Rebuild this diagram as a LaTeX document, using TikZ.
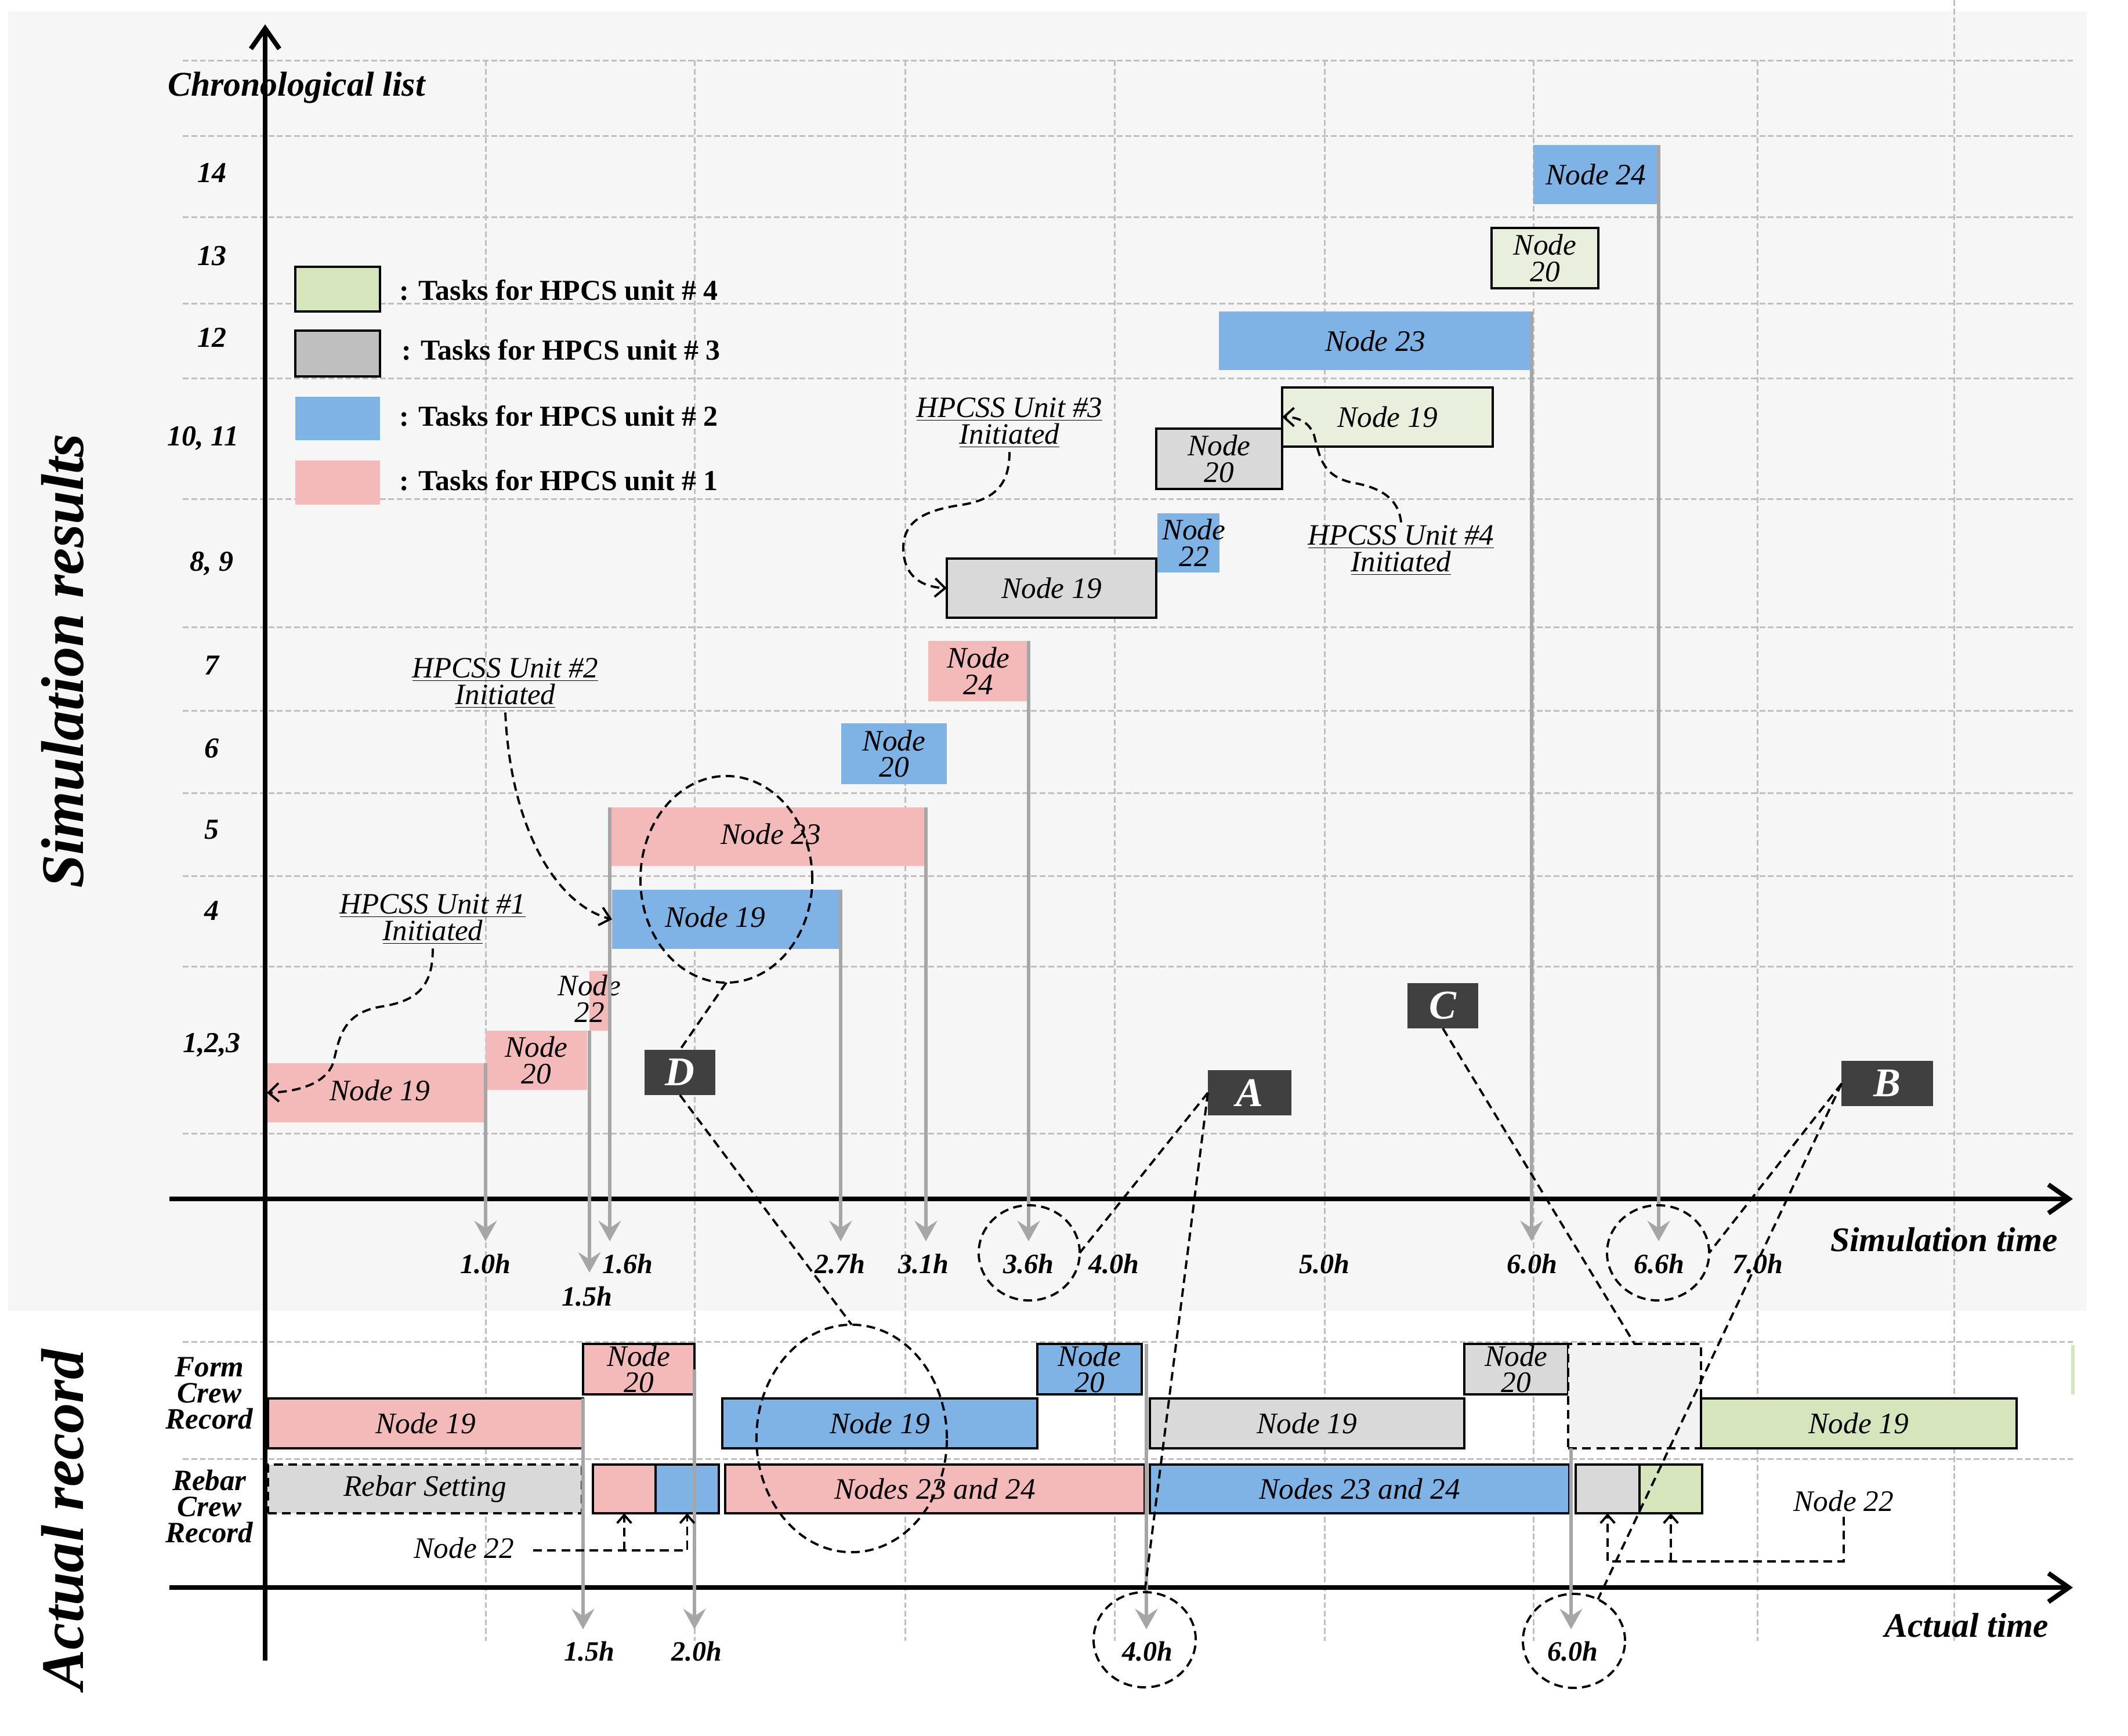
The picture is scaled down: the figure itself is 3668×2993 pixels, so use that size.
\documentclass[tikz,border=0pt]{standalone}
\usepackage{fontspec}
\setmainfont{Liberation Serif}
\usetikzlibrary{arrows.meta,shapes.geometric}
\definecolor{pinkc}{RGB}{244,185,185}
\definecolor{bluec}{RGB}{127,179,229}
\definecolor{grayc}{RGB}{217,217,217}
\definecolor{graylg}{RGB}{191,191,191}
\definecolor{greenl}{RGB}{233,239,221}
\definecolor{greenc}{RGB}{213,230,189}
\definecolor{bgc}{RGB}{246,246,246}
\definecolor{gridc}{RGB}{191,191,191}
\definecolor{dropc}{RGB}{166,166,166}
\definecolor{lblc}{RGB}{64,64,64}
\definecolor{dboxc}{RGB}{242,242,242}
\newcommand\tbox[7]{%
 \node[tb,#2,minimum width={(#5-#3)*0.01cm},minimum height={(#6-#4)*0.01cm}] (#1) at ({(#3+#5)/2},{(#4+#6)/2}) {};
 \node[nf,align=center,inner sep=0pt] (#1-t) at (#1.center) {#7};}
\newcommand\tboxt[9]{%
 \node[tb,#2,minimum width={(#5-#3)*0.01cm},minimum height={(#6-#4)*0.01cm}] (#1) at ({(#3+#5)/2},{(#4+#6)/2}) {};
 \node[nf,align=center,inner sep=0pt] (#1-t) at (#7,#8) {#9};}
\newcommand\ebox[6]{%
 \node[tb,#2,minimum width={(#5-#3)*0.01cm},minimum height={(#6-#4)*0.01cm}] (#1) at ({(#3+#5)/2},{(#4+#6)/2}) {};}
\begin{document}
\begin{tikzpicture}[x=0.01cm,y=-0.01cm,
 nf/.style={font=\fontsize{14.6}{13}\selectfont\itshape},
 tb/.style={inner sep=0pt,outer sep=0pt},
 bd/.style={draw=black,line width=1.2pt},
 gridl/.style={draw=gridc,line width=0.85pt,dash pattern=on 2.8pt off 1.4pt},
 axisl/.style={draw=black,line width=2.3pt},
 axtip/.style={-{Straight Barb[length=10pt,width=14pt]}},
 drop/.style={draw=dropc,line width=1.8pt,-{Stealth[length=10pt,width=11pt,inset=3.5pt]}},
 dsh/.style={draw=black,line width=1.1pt,dash pattern=on 4.3pt off 2.6pt},
 vtip/.style={-{Straight Barb[length=5pt,width=9pt]}},
 stip/.style={-{Straight Barb[length=4pt,width=7pt]}},
 lbl/.style={fill=lblc,text=white,inner sep=0pt,outer sep=0pt,font=\fontsize{20}{20}\selectfont\bfseries\itshape},
 tick/.style={inner sep=0pt,font=\fontsize{13.7}{14}\selectfont\bfseries\itshape},
 rowl/.style={inner sep=0pt,font=\fontsize{14.2}{14}\selectfont\bfseries\itshape},
 legt/.style={inner sep=0pt,anchor=west,font=\fontsize{14.2}{14}\selectfont\bfseries},
 hpl/.style={inner sep=0pt,align=center,font=\fontsize{14.5}{13.1}\selectfont\itshape},
 crew/.style={inner sep=0pt,align=center,font=\fontsize{14.5}{12.8}\selectfont\bfseries\itshape},
 ttl/.style={inner sep=0pt,rotate=90,font=\fontsize{29.6}{30}\selectfont\bfseries\itshape},
 axt/.style={inner sep=0pt,font=\fontsize{16.9}{17}\selectfont\bfseries\itshape},
 ell/.style={ellipse,dsh,inner sep=0pt,outer sep=0pt}]
\useasboundingbox (0,0) rectangle (3668,2993);
\fill[white] (0,0) rectangle (3668,2993);
\fill[bgc] (14,20) rectangle (3597,2260);
% grid
\foreach \x in {837,1197,1560,1921,2283,2643,3029} \draw[gridl] (\x,104) -- (\x,2829);
\draw[gridl] (3368,0) -- (3368,2829);
\foreach \y in {104,234,374,523,652,860,1081,1225,1367,1510,1666,1954,2313,2515} \draw[gridl] (315,\y) -- (3573,\y);
\fill[greenc] (3570,2319) rectangle (3576,2404);
% titles
\node[ttl] (tsim) at (108,1140) {Simulation results};
\node[ttl] (tact) at (108,2620) {Actual record};
\node[inner sep=0pt,font=\fontsize{17}{17}\selectfont\bfseries\itshape] (chron) at (511,151) {Chronological list};
\node[rowl] (r14) at (365,298) {14};
\node[rowl] (r13) at (365,441) {13};
\node[rowl] (r12) at (365,582) {12};
\node[rowl] (r1011) at (350,756) {10, 11};
\node[rowl] (r89) at (365,972) {8, 9};
\node[rowl] (r7) at (365,1147) {7};
\node[rowl] (r6) at (365,1290) {6};
\node[rowl] (r5) at (365,1430) {5};
\node[rowl] (r4) at (365,1570) {4};
\node[rowl] (r123) at (365,1802) {1,2,3};
\node[crew] (cform) at (361,2402) {Form\\Crew\\Record};
\node[crew] (crebar) at (361,2597) {Rebar\\Crew\\Record};
% legend
\ebox{lg4}{fill=greenc,bd}{509}{460}{655}{537}
\ebox{lg3}{fill=graylg,bd}{509}{570}{655}{649}
\ebox{lg2}{fill=bluec}{509}{684}{655}{759}
\ebox{lg1}{fill=pinkc}{509}{794}{655}{870}
\node[legt] (lt4) at (688,500) {: Tasks for HPCS unit \# 4};
\node[legt] (lt3) at (692,603) {: Tasks for HPCS unit \# 3};
\node[legt] (lt2) at (688,717) {: Tasks for HPCS unit \# 2};
\node[legt] (lt1) at (688,828) {: Tasks for HPCS unit \# 1};
% simulation boxes
\tboxt{s19p}{fill=pinkc}{460}{1833}{837}{1935}{655}{1880}{Node 19}
\tbox{s20p}{fill=pinkc}{837}{1777}{1012}{1879}{Node\\20}
\tboxt{s22p}{fill=pinkc}{1016}{1674}{1049}{1777}{1016}{1722}{Node\\22}
\tboxt{s23p}{fill=pinkc}{1051}{1392}{1596}{1493}{1329}{1438}{Node 23}
\tboxt{s19b}{fill=bluec}{1055}{1534}{1449}{1636}{1233}{1581}{Node 19}
\tbox{s20b}{fill=bluec}{1450}{1247}{1632}{1352}{Node\\20}
\tbox{s24p}{fill=pinkc}{1600}{1105}{1773}{1209}{Node\\24}
\tbox{s19g}{fill=grayc,bd}{1632}{963}{1993}{1065}{Node 19}
\tboxt{s22b}{fill=bluec}{1995}{885}{2102}{987}{2058}{936}{Node\\22}
\tbox{s20g}{fill=grayc,bd}{1993}{739}{2210}{843}{Node\\20}
\tbox{g19}{fill=greenl,bd}{2210}{668}{2573}{770}{Node 19}
\tbox{s23b}{fill=bluec}{2101}{537}{2640}{638}{Node 23}
\tbox{s20gr}{fill=greenl,bd}{2571}{393}{2755}{497}{Node\\20}
\tbox{s24b}{fill=bluec}{2643}{250}{2859}{352}{Node 24}
% actual boxes
\tbox{a19p}{fill=pinkc,bd}{462}{2411}{1005}{2497}{Node 19}
\tbox{a20p}{fill=pinkc,bd}{1005}{2317}{1197}{2404}{Node\\20}
\tbox{a19b}{fill=bluec,bd}{1245}{2411}{1788}{2497}{Node 19}
\tbox{a20b}{fill=bluec,bd}{1788}{2317}{1968}{2404}{Node\\20}
\tbox{a19g}{fill=grayc,bd}{1982}{2411}{2524}{2497}{Node 19}
\tbox{a20g}{fill=grayc,bd}{2524}{2317}{2703}{2404}{Node\\20}
\ebox{dbox}{fill=dboxc,dsh}{2703}{2317}{2932}{2497}
\tbox{a19gr}{fill=greenc,bd}{2932}{2411}{3476}{2497}{Node 19}
\tbox{aRS}{fill=grayc,dsh}{462}{2525}{1003}{2609}{Rebar Setting}
\ebox{a22p}{fill=pinkc,bd}{1022}{2525}{1130}{2609}
\ebox{a22b}{fill=bluec,bd}{1130}{2525}{1239}{2609}
\tbox{a2324p}{fill=pinkc,bd}{1250}{2525}{1973}{2609}{Nodes 23 and 24}
\tbox{a2324b}{fill=bluec,bd}{1982}{2525}{2705}{2609}{Nodes 23 and 24}
\ebox{a22g}{fill=grayc,bd}{2716}{2525}{2826}{2609}
\ebox{a22gr}{fill=greenc,bd}{2826}{2525}{2934}{2609}
% axes
\draw[axisl,axtip] (457,2863) -- (457,42);
\draw[axisl,axtip] (292,2067) -- (3573,2067);
\draw[axisl,axtip] (292,2737) -- (3573,2737);
% drop arrows
\coordinate (tS) at (0,2140);
\coordinate (tS2) at (0,2194);
\coordinate (tA) at (0,2809);
\draw[drop] (s19p.north east) -- (s19p.north east |- tS);
\draw[drop] (s22p.south west) -- (s22p.south west |- tS2);
\draw[drop] (s23p.north west) -- (s23p.north west |- tS);
\draw[drop] (s19b.north east) -- (s19b.north east |- tS);
\draw[drop] (s23p.north east) -- (s23p.north east |- tS);
\draw[drop] (s24p.north east) -- (s24p.north east |- tS);
\draw[drop] (s23b.north east) -- (s23b.north east |- tS);
\draw[drop] (s24b.north east) -- (s24b.north east |- tS);
\draw[drop] (a19p.north east) -- (a19p.north east |- tA);
\draw[drop] (a20p.east) -- (a20p.east |- tA);
\draw[drop] ([xshift=0.08cm]a20b.north east) -- ([xshift=0.08cm]a20b.north east |- tA);
\draw[drop] ([xshift=0.05cm]dbox.south west) -- ([xshift=0.05cm]dbox.south west |- tA);
% tick labels
\node[tick] (k10) at (837,2179) {1.0h};
\node[tick] (k16) at (1082,2179) {1.6h};
\node[tick] (k15) at (1012,2235) {1.5h};
\node[tick] (k27) at (1448,2179) {2.7h};
\node[tick] (k31) at (1592,2179) {3.1h};
\node[tick] (k36) at (1773,2179) {3.6h};
\node[tick] (k40) at (1920,2179) {4.0h};
\node[tick] (k50) at (2283,2179) {5.0h};
\node[tick] (k60) at (2641,2179) {6.0h};
\node[tick] (k66) at (2860,2179) {6.6h};
\node[tick] (k70) at (3030,2179) {7.0h};
\node[tick] (q15) at (1016,2847) {1.5h};
\node[tick] (q20) at (1201,2847) {2.0h};
\node[tick] (q40) at (1978,2847) {4.0h};
\node[tick] (q60) at (2711,2847) {6.0h};
\node[axt] (simt) at (3351,2137) {Simulation time};
\node[axt] (actt) at (3390,2802) {Actual time};
% HPCSS labels and curves
\node[hpl] (h1) at (746,1585) {\underline{HPCSS Unit \#1}\\\underline{Initiated}};
\node[hpl] (h2) at (871,1178) {\underline{HPCSS Unit \#2}\\\underline{Initiated}};
\node[hpl] (h3) at (1740,729) {\underline{HPCSS Unit \#3}\\\underline{Initiated}};
\node[hpl] (h4) at (2415,949) {\underline{HPCSS Unit \#4}\\\underline{Initiated}};
\draw[dsh,vtip] ([yshift=-0.06cm]h1.south) .. controls (746,1700) and (720,1725) .. (660,1735) .. controls (590,1745) and (585,1790) .. (575,1830) .. controls (565,1865) and (520,1882) .. (s19p.west);
\draw[dsh,vtip] ([yshift=-0.06cm]h2.south) .. controls (880,1430) and (960,1560) .. (s19b.west);
\draw[dsh,vtip] ([yshift=-0.06cm]h3.south) .. controls (1740,830) and (1720,860) .. (1660,870) .. controls (1590,880) and (1555,900) .. (1557,950) .. controls (1560,995) and (1590,1012) .. (s19g.west);
\draw[dsh,vtip] ([yshift=0.04cm]h4.north) .. controls (2411,860) and (2380,840) .. (2330,832) .. controls (2280,820) and (2275,790) .. (2265,750) .. controls (2255,725) and (2235,719) .. (g19.west);
% node 22 connectors (actual)
\node[nf,inner sep=0pt] (n22l) at (800,2669) {Node 22};
\node[nf,inner sep=0pt] (n22r) at (3178,2588) {Node 22};
\coordinate (j1) at (919,2673);
\coordinate (j2) at (3178,2692);
\draw[dsh,stip] (j1) -| (a22b.south);
\draw[dsh,stip] (a22p.south |- j1) -- (a22p.south);
\draw[dsh,stip] ([yshift=-0.08cm]n22r.south) -- (j2) -| (a22g.south);
\draw[dsh,stip] (a22gr.south |- j2) -- (a22gr.south);
% ellipses
\node[ell,minimum width=2.96cm,minimum height=3.56cm] (eD1) at (1252,1516) {};
\node[ell,minimum width=3.28cm,minimum height=3.92cm] (eD2) at (1468,2480) {};
\node[ell,minimum width=1.74cm,minimum height=1.64cm] (c36) at (1774,2160) {};
\node[ell,minimum width=1.76cm,minimum height=1.64cm] (c66) at (2858,2160) {};
\node[ell,minimum width=1.76cm,minimum height=1.64cm] (cA4) at (1973,2827) {};
\node[ell,minimum width=1.76cm,minimum height=1.62cm] (cA6) at (2713,2829) {};
% letter boxes
\node[lbl,minimum width=1.22cm,minimum height=0.78cm] (D) at (1172,1849) {D};
\node[lbl,minimum width=1.44cm,minimum height=0.78cm] (A) at (2154,1884) {A};
\node[lbl,minimum width=1.22cm,minimum height=0.78cm] (C) at (2487,1734) {C};
\node[lbl,minimum width=1.57cm,minimum height=0.78cm] (B) at (3253,1868) {B};
\draw[dsh] (eD1.south) -- (D.north);
\draw[dsh] (D.south) -- (eD2.north);
\draw[dsh] (A.west) -- (c36.east);
\draw[dsh] (A.west) -- (cA4.north);
\draw[dsh] (B.west) -- (c66.east);
\draw[dsh] (B.west) -- (cA6.60);
\draw[dsh] (C.south) -- (dbox.north);
\end{tikzpicture}
\end{document}
